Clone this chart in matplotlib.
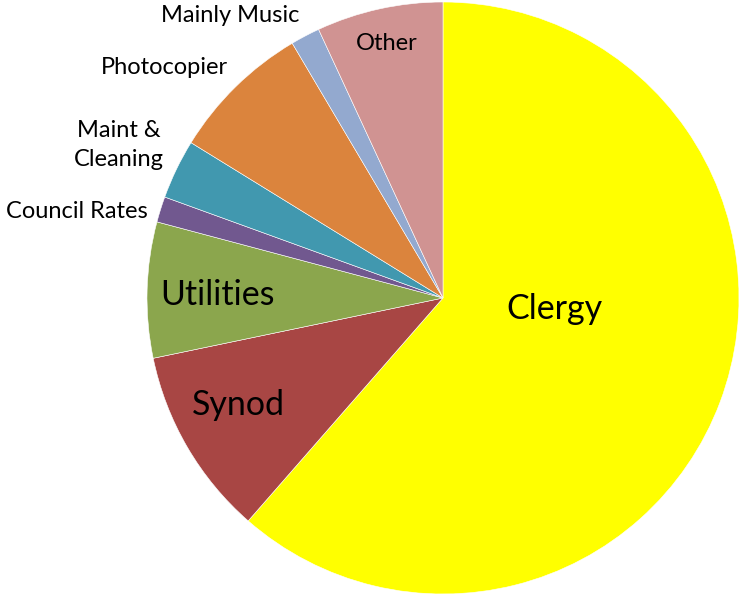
import numpy as np
import matplotlib
matplotlib.use("Agg")
from matplotlib import pyplot as plt

# Expense shares (percent), clockwise from 12 o'clock
categories = ["Clergy", "Synod", "Utilities", "Council Rates",
              "Maint &\nCleaning", "Photocopier", "Mainly Music", "Other"]
shares = [61.4, 10.3, 7.4, 1.4, 3.25, 7.7, 1.6, 6.9]
colors = ["#FFFF00", "#A84644", "#8BA64D", "#71588F",
          "#4198AF", "#DB843D", "#93A9CF", "#D09392"]

plt.rcParams['font.family'] = ['Lato', 'DejaVu Sans']

W, H = 742, 595
R = 296.0
cx, cy = 443, 298  # pie centre in pixels (from top-left)

fig = plt.figure(figsize=(W / 100, H / 100), dpi=100)
ax = fig.add_axes([0, 0, 1, 1])
ax.pie(shares, colors=colors, startangle=90, counterclock=False, radius=1,
       wedgeprops=dict(edgecolor="white", linewidth=0.4))
ax.set_xlim(-cx / R, (W - cx) / R)
ax.set_ylim(-(H - cy) / R, cy / R)
ax.set_aspect("equal")
ax.axis("off")


def px(x, y):
    return (x - cx) / R, (cy - y) / R


# label placement in pixels: (x, y, ha, size)
label_pos = [
    (554, 309, "center", 24.5),
    (238, 405, "center", 24.5),
    (217, 295, "center", 24.5),
    (148, 211, "right", 17),
    (164, 145, "right", 17),
    (164, 67, "center", 17),
    (230, 15, "center", 17),
    (387, 44, "center", 17),
]
for name, (x, y, ha, size) in zip(categories, label_pos):
    ax.text(*px(x, y), name, ha=ha, va="center", fontsize=size,
            color="black", multialignment="center", linespacing=1.45)

fig.savefig("out.png", dpi=100)
